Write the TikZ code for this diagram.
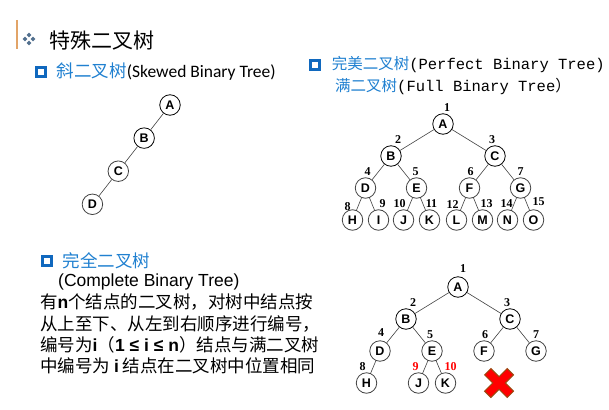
\documentclass[tikz,border=0pt]{standalone}
\usepackage{fontspec}
\setmainfont{Liberation Sans}
\newfontfamily\cjk{Noto Sans CJK SC}
\newfontfamily\calib{Carlito}
\newfontfamily\simmono{Liberation Mono}
\newfontfamily\numfont{Liberation Serif}
\usetikzlibrary{positioning}
\definecolor{subblue}{HTML}{2080D0}
\definecolor{boxblue}{HTML}{1068BE}
\definecolor{accent}{HTML}{E2A468}
\definecolor{bulletgray}{HTML}{52708E}
\definecolor{crossedge}{HTML}{9A4A10}
\newcommand{\bv}[1]{{\rmfamily\bfseries #1}}

\begin{document}
\begin{tikzpicture}[
    x=1pt, y=-1pt,
    vertex/.style={circle, draw, line width=0.8pt, minimum size=20.5pt, inner sep=0pt,
        font=\fontsize{12.5}{14}\selectfont\bfseries},
    num/.style={font=\numfont\fontsize{12}{13}\selectfont\bfseries, inner sep=0.5pt},
    rednum/.style={num, text=red},
    bluebox/.style={draw=boxblue, line width=2.2pt, minimum size=9pt, inner sep=0pt},
    edge from parent/.style={draw, black!75, line width=0.6pt},
    every label/.style={label distance=1pt}
]
\useasboundingbox (0,0) rectangle (609,409);

% heading
\draw[accent, line width=1.5pt] (17,20) -- (17,49);
\foreach \dx/\dy in {-4/0, 4/0, 0/-4, 0/4}
    \fill[bulletgray, shift={(29+\dx,39+\dy)}] (-2.3,0) -- (0,-2.3) -- (2.3,0) -- (0,2.3) -- cycle;
\node[anchor=west, inner sep=0pt, font=\cjk\fontsize{21}{25}\selectfont] (title) at (49,41) {特殊二叉树};

% skewed
\node[bluebox] (sq1) at (41,72) {};
\node[right=10pt of sq1, inner sep=0pt, font=\fontsize{17.5}{20}\selectfont] (skew)
    {{\cjk\color{subblue}斜二叉树}{\calib(Skewed Binary Tree)}};
\begin{scope}[grow=232, level distance=42pt]
\node[vertex] (sA) at (170,105) {A}
    child { node[vertex] (sB) {B}
        child { node[vertex] (sC) {C}
            child { node[vertex] (sD) {D} }
        }
    };
\end{scope}

% perfect / full
\node[bluebox] (sq2) at (315,65) {};
\node[right=11pt of sq2, inner sep=0pt, font=\fontsize{15.5}{18}\selectfont] (perf)
    {{\cjk\color{subblue}完美二叉树}{\simmono(Perfect Binary Tree)}};
\node[anchor=west, inner sep=0pt, font=\fontsize{15.5}{18}\selectfont] (full) at (335,86)
    {{\cjk\color{subblue}满二叉树}{\simmono(Full Binary Tree}{\cjk ）}};
\begin{scope}[level distance=32pt,
    level 1/.style={sibling distance=104pt},
    level 2/.style={sibling distance=51pt},
    level 3/.style={sibling distance=26pt}]
\node[vertex, label={[num,xshift=4pt]above:1}] (pA) at (443,124) {A}
    child { node[vertex, label={[num,xshift=7pt]above:2}] (pB) {B}
        child { node[vertex, label={[num,xshift=2pt]above:4}] (pD) {D}
            child { node[vertex, label={[num,xshift=-5pt,yshift=-3pt]above:8}] (pH) {H} }
            child { node[vertex, label={[num,xshift=4pt]above:9}] (pI) {I} }
        }
        child { node[vertex, label={[num,xshift=-1pt]above:5}] (pE) {E}
            child { node[vertex, label={[num,xshift=-4pt]above:10}] (pJ) {J} }
            child { node[vertex, label={[num,xshift=2pt]above:11}] (pK) {K} }
        }
    }
    child { node[vertex, label={[num,xshift=-3pt]above:3}] (pC) {C}
        child { node[vertex, label={[num,xshift=1pt]above:6}] (pF) {F}
            child { node[vertex, label={[num,xshift=-4pt,yshift=-1pt]above:12}] (pL) {L} }
            child { node[vertex, label={[num,xshift=4pt]above:13}] (pM) {M} }
        }
        child { node[vertex, label={[num]above:7}] (pG) {G}
            child { node[vertex, label={[num,xshift=-1pt]above:14}] (pN) {N} }
            child { node[vertex, label={[num,xshift=5pt,yshift=2pt]above:15}] (pO) {O} }
        }
    };
\end{scope}

% complete
\node[bluebox] (sq3) at (47,261) {};
\node[right=10pt of sq3, inner sep=0pt, font=\cjk\fontsize{17.5}{20}\selectfont, text=subblue] (comp) {完全二叉树};
\node[anchor=west, inner sep=0pt, font=\fontsize{17.5}{20}\selectfont] (compen) at (58,282) {(Complete Binary Tree)};
\node[anchor=north west, inner sep=0pt, align=left,
    font=\cjk\fontsize{17.5}{21.3}\selectfont] (desc) at (40,294) {%
有\bv{n}个结点的二叉树，对树中结点按\\
从上至下、从左到右顺序进行编号，\\
编号为\bv{i}（\bv{1 ≤ i ≤ n}）结点与满二叉树\\
中编号为 \bv{i} 结点在二叉树中位置相同};
\begin{scope}[level distance=32pt,
    level 1/.style={sibling distance=104pt},
    level 2/.style={sibling distance=52pt},
    level 3/.style={sibling distance=27pt}]
\node[vertex, label={[num,xshift=5pt,yshift=2pt]above:1}] (cA) at (458,287) {A}
    child { node[vertex, label={[num,xshift=7pt]above:2}] (cB) {B}
        child { node[vertex, label={[num,xshift=1pt,yshift=2pt]above:4}] (cD) {D}
            child { node[vertex, label={[num,xshift=-4pt]above:8}] (cH) {H} }
            child[missing] {}
        }
        child { node[vertex, label={[num,xshift=-2pt]above:5}] (cE) {E}
            child { node[vertex, label={[rednum,xshift=-3pt]above:9}] (cJ) {J} }
            child { node[vertex, label={[rednum,xshift=5pt]above:10}] (cK) {K} }
        }
    }
    child { node[vertex, label={[num,xshift=-3pt]above:3}] (cC) {C}
        child { node[vertex, label={[num,xshift=1pt]above:6}] (cF) {F} }
        child { node[vertex, label={[num]above:7}] (cG) {G} }
    };
\end{scope}

% no node here
\coordinate (cross) at (499,383);
\filldraw[fill=red, draw=crossedge, line width=0.9pt, shift={(cross)}, rotate=45]
    (4.5,16) -- (4.5,4.5) -- (16,4.5) -- (16,-4.5) -- (4.5,-4.5) -- (4.5,-16)
    -- (-4.5,-16) -- (-4.5,-4.5) -- (-16,-4.5) -- (-16,4.5) -- (-4.5,4.5) -- (-4.5,16) -- cycle;
\end{tikzpicture}
\end{document}
